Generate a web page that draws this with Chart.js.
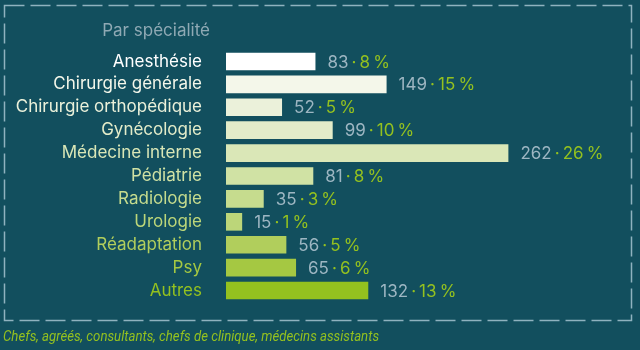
<!DOCTYPE html>
<html>
<head>
<meta charset="utf-8">
<script src="https://cdn.jsdelivr.net/npm/chart.js@4"></script>
<style>
  html, body { margin: 0; padding: 0; background: #124f5e; }
  #wrap { width: 640px; height: 350px; position: relative; }
</style>
</head>
<body>
<div id="wrap"><canvas id="chart" width="640" height="350"></canvas></div>
<script>
// data
const categories = [
  "Anesthésie", "Chirurgie générale", "Chirurgie orthopédique", "Gynécologie",
  "Médecine interne", "Pédiatrie", "Radiologie", "Urologie", "Réadaptation", "Psy", "Autres",
];
const counts = [83, 149, 52, 99, 262, 81, 35, 15, 56, 65, 132];
const percents = [8, 15, 5, 10, 26, 8, 3, 1, 5, 6, 13];
const title = "Par spécialité";
const footnote = "Chefs, agréés, consultants, chefs de clinique, médecins assistants";

// styles
const BG = "#124f5e";
const GREY = "#9db6c2";
const LIME = "#94c11f";
const barColors = [
  "#ffffff", "#f4f7ea", "#ebf1da", "#e3ecc9", "#dae7b7", "#d0e2a4",
  "#c6dc8e", "#bcd679", "#b1ce5c", "#a5c842", "#94c11f",
];
const FONT = "Inter";
const SIZE = 17;

const decor = {
  id: "decor",
  beforeDraw(chart) {
    const c = chart.ctx;
    c.save();
    c.fillStyle = BG;
    c.fillRect(0, 0, chart.width, chart.height);
    c.strokeStyle = "#8fb2bf";
    c.lineWidth = 1.5;
    c.setLineDash([20, 6]);
    c.strokeRect(4.5, 5.5, 627, 315);
    c.setLineDash([]);
    c.restore();
  },
  afterDraw(chart) {
    const c = chart.ctx;
    c.save();
    // title
    c.font = SIZE + "px " + FONT;
    c.fillStyle = "#8fa9b4";
    c.textAlign = "right";
    c.textBaseline = "middle";
    c.fillText(title, 210, 31);
    // value labels: "83 · 8 %"
    c.textAlign = "left";
    chart.getDatasetMeta(0).data.forEach((bar, i) => {
      let x = bar.x + 12;
      const y = bar.y + 1;
      const a = counts[i] + "\u2009";
      c.fillStyle = GREY;
      c.fillText(a, x, y);
      x += c.measureText(a).width;
      const b = "·\u2009" + percents[i] + "\u2009%";
      c.fillStyle = LIME;
      c.fillText(b, x, y);
    });
    // footnote, squeezed to the condensed width of the original
    c.font = "italic 15px Roboto";
    c.fillStyle = LIME;
    c.textBaseline = "alphabetic";
    const w = c.measureText(footnote).width;
    c.translate(3, 341);
    c.scale(376 / w, 1);
    c.fillText(footnote, 0, 0);
    c.restore();
  },
};

new Chart(document.getElementById("chart"), {
  type: "bar",
  data: {
    labels: categories,
    datasets: [
      {
        data: counts,
        backgroundColor: barColors,
        borderWidth: 0,
        categoryPercentage: 1,
        barPercentage: 0.77,
      },
    ],
  },
  options: {
    indexAxis: "y",
    responsive: false,
    animation: false,
    layout: { padding: { top: 50, bottom: 48, right: 26, left: 0 } },
    plugins: { legend: { display: false }, tooltip: { enabled: false } },
    scales: {
      x: { display: false, min: 0, max: 360 },
      y: {
        grid: { display: false },
        border: { display: false },
        afterFit: (scale) => { scale.width = 226; },
        ticks: {
          autoSkip: false,
          padding: 16,
          font: { family: FONT, size: SIZE },
          color: (ctx) => barColors[ctx.index],
        },
      },
    },
  },
  plugins: [decor],
});
</script>
</body>
</html>
